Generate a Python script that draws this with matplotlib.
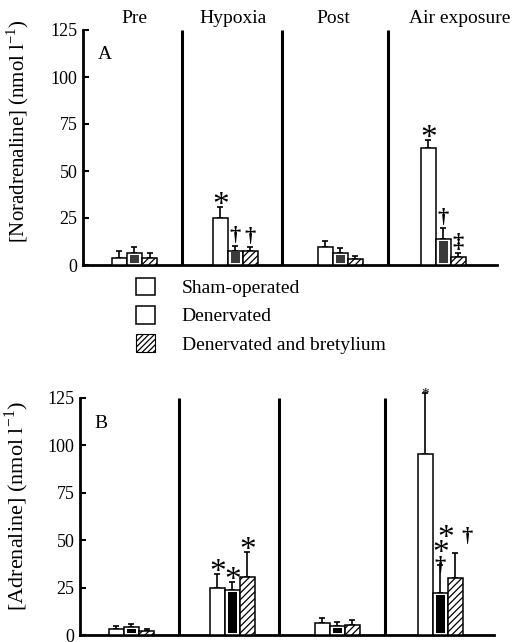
import matplotlib.pyplot as plt
from matplotlib.patches import Patch
from matplotlib.transforms import blended_transform_factory
import numpy as np

plt.rcParams['font.family'] = ['Liberation Serif', 'DejaVu Serif']
plt.rcParams['mathtext.fontset'] = 'custom'
plt.rcParams['mathtext.rm'] = 'Liberation Serif'
plt.rcParams['hatch.linewidth'] = 0.9

groups = ['Pre', 'Hypoxia', 'Post', 'Air exposure']
series = ['Sham-operated', 'Denervated', 'Denervated and bretylium']

# A: noradrenaline (nmol l-1), mean and upper s.e.m.
nor_sham = [3.9, 24.8, 9.7, 62.4]
nor_sham_err = [3.7, 6.2, 3.2, 4.1]
nor_den = [6.3, 7.7, 6.2, 13.8]
nor_den_err = [3.4, 2.3, 2.7, 6.0]
nor_bret = [3.9, 7.2, 3.2, 4.4]
nor_bret_err = [2.4, 2.2, 1.6, 2.1]

# B: adrenaline (nmol l-1)
adr_sham = [3.0, 24.6, 6.2, 95.5]
adr_sham_err = [1.7, 7.6, 2.9, 32.3]
adr_den = [4.0, 23.7, 4.7, 22.0]
adr_den_err = [1.8, 4.1, 2.3, 14.9]
adr_bret = [2.0, 30.8, 5.3, 30.2]
adr_bret_err = [1.0, 13.2, 2.6, 13.2]

# significance marks: (group, series, symbols)
nor_marks = [(1, 0, '*'), (1, 1, '†'), (1, 2, '†'),
             (3, 0, '*'), (3, 1, '†'), (3, 2, '‡')]
adr_marks = [(1, 0, '*'), (1, 1, '*'), (1, 2, '*'),
             (3, 0, '.'), (3, 1, '†*'), (3, 2, '*†')]

yticks = [0, 25, 50, 75, 100, 125]

# layout
group_x = np.array([0, 0.98, 2.0, 3.0])
label_x = [0, 0.96, 1.93, 3.16]
sep_x = [0.46, 1.43, 2.46]
bar_w = 0.146


def star(ax, x, y, dx, dy, size=24):
    ax.annotate('*', (x, y), xytext=(dx, dy - 7 * size / 24),
                textcoords='offset points', ha='center', va='baseline',
                fontsize=size, annotation_clip=False)


def dagger(ax, x, y, dx, dy, sym='†'):
    ax.annotate(sym, (x, y), xytext=(dx, dy), textcoords='offset points',
                ha='center', va='bottom', fontsize=16, fontweight='bold')


def panel(ax, means, errs, marks, letter, ylabel, inner, ylab_x, ylab_y,
          ylab_size):
    for i, (m, e) in enumerate(zip(means, errs)):
        xi = group_x + (i - 1) * bar_w
        m = np.array(m)
        if i == 2:
            ax.bar(xi, m, bar_w, facecolor='white', edgecolor='black',
                   hatch='/////', lw=1.1, zorder=3)
        else:
            ax.bar(xi, m, bar_w, facecolor='white', edgecolor='black',
                   lw=1.1, zorder=3)
        if i == 1:
            gap = 1.0
            h = np.clip(m - 2 * gap, 0, None)
            ax.bar(xi, h, bar_w * 0.62, bottom=gap, color=inner,
                   lw=0, zorder=4)
        ax.errorbar(xi, m, yerr=[np.zeros(4), e], fmt='none',
                    ecolor='black', elinewidth=1.2, capsize=2.5,
                    capthick=1.2, zorder=2, clip_on=False)
    tops = [np.array(means[k]) + np.array(errs[k]) for k in range(3)]
    for g, s, sym in marks:
        xi = group_x[g] + (s - 1) * bar_w
        y = tops[s][g]
        if sym == '*':
            star(ax, xi, y, 0, 2)
        elif sym == '.':
            star(ax, xi, y, 0, 0, size=11)
        elif sym == '†*':
            dagger(ax, xi, y, 0, -8)
            star(ax, xi, y, 0, 9)
        elif sym == '*†':
            star(ax, xi, y, -7, 11)
            dagger(ax, xi, y, 8, 4)
        else:
            dagger(ax, xi, y, 0, 0, sym)
    ax.vlines(sep_x, 0, 125, color='black', lw=2.2)
    ax.set_xlim(-0.5, 3.52)
    ax.set_ylim(0, 125)
    ax.set_yticks(yticks)
    ax.set_xticks([])
    ax.tick_params(axis='y', direction='in', length=4, width=1.5,
                   labelsize=13, pad=4)
    for side in ['top', 'right']:
        ax.spines[side].set_visible(False)
    ax.spines['left'].set_linewidth(2)
    ax.spines['bottom'].set_linewidth(2)
    ax.text(0.035, 0.93, letter, transform=ax.transAxes, fontsize=14,
            va='top', ha='left')
    ax.set_ylabel(ylabel, fontsize=ylab_size)
    ax.yaxis.set_label_coords(ylab_x, ylab_y)


fig = plt.figure(figsize=(5.24, 6.42), dpi=100)
ax_a = fig.add_axes([83 / 524, 377 / 642, 414 / 524, 235 / 642])
ax_b = fig.add_axes([80 / 524, 7 / 642, 414 / 524, 237 / 642])

panel(ax_a, [nor_sham, nor_den, nor_bret],
      [nor_sham_err, nor_den_err, nor_bret_err], nor_marks, 'A',
      '[Noradrenaline] (nmol l$^{-1}$)', '#3a3a3a', -0.125, 0.57, 15)
panel(ax_b, [adr_sham, adr_den, adr_bret],
      [adr_sham_err, adr_den_err, adr_bret_err], adr_marks, 'B',
      '[Adrenaline] (nmol l$^{-1}$)', 'black', -0.118, 0.545, 16)

tr = blended_transform_factory(ax_a.transData, ax_a.transAxes)
for lx, name in zip(label_x, groups):
    ax_a.text(lx, 1.05, name, transform=tr, ha='center', va='center',
              fontsize=14)

handles = [Patch(facecolor='white', edgecolor='black', lw=1.1),
           Patch(facecolor='white', edgecolor='black', lw=1.1),
           Patch(facecolor='white', edgecolor='black', hatch='//////', lw=0.8)]
fig.legend(handles, series, loc='upper left',
           bbox_to_anchor=(136 / 524, 1 - 278 / 642), frameon=False,
           fontsize=14, handlelength=1.0, handleheight=1.0,
           handletextpad=1.35, labelspacing=0.45, borderpad=0,
           borderaxespad=0)

fig.savefig('out.png', dpi=100)
